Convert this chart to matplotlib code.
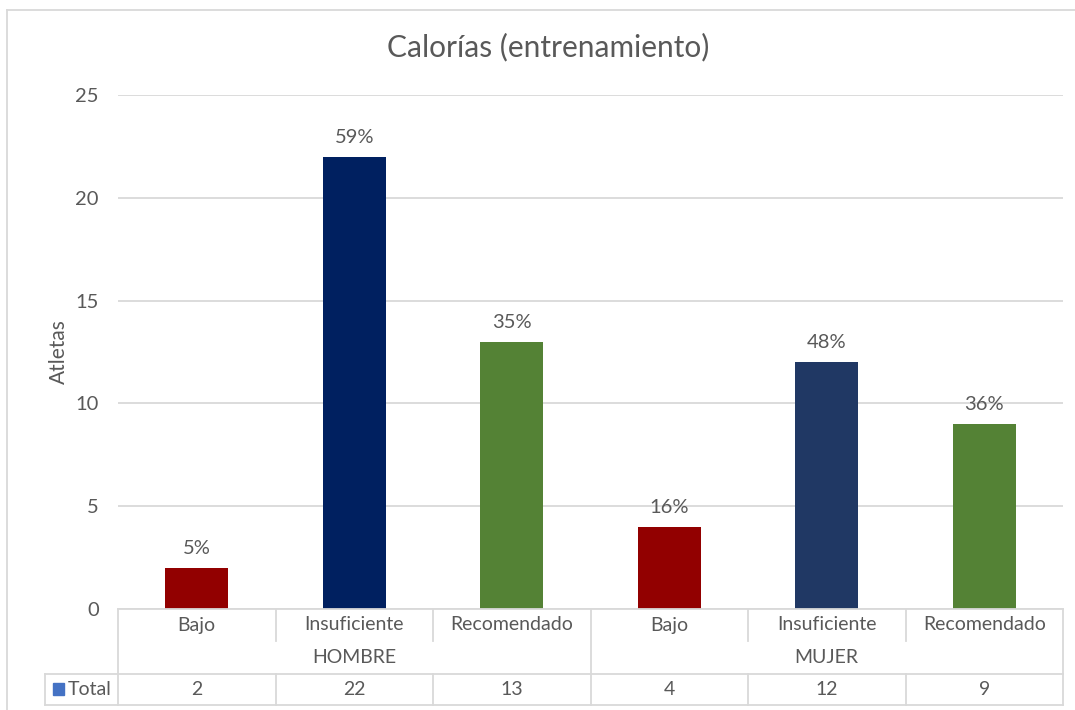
import matplotlib
matplotlib.use("Agg")
from matplotlib import pyplot as plt
from matplotlib import transforms
from matplotlib.patches import Rectangle

plt.rcParams['font.family'] = ['Lato', 'DejaVu Sans']

# data
groups = ["HOMBRE", "MUJER"]
levels = ["Bajo", "Insuficiente", "Recomendado"]
values = [2, 22, 13, 4, 12, 9]
percents = ["5%", "59%", "35%", "16%", "48%", "36%"]
colors = ['#920000', '#002060', '#548235', '#920000', '#203864', '#548235']
y_ticks = [0, 5, 10, 15, 20, 25]

txt = '#595959'
line = '#d9d9d9'
W, H = 1075, 710

fig = plt.figure(figsize=(W / 100, H / 100), dpi=100)


def fy(px):
    # pixel row -> figure fraction
    return 1 - px / H


ax = fig.add_axes([118 / W, fy(609), (1063 - 118) / W, fy(95) - fy(609)])
n = len(values)
xs = list(range(n))
bars = ax.bar(xs, values, width=0.4, color=colors)
for b, p in zip(bars, percents):
    ax.annotate(p, (b.get_x() + b.get_width() / 2, b.get_height()),
                xytext=(0, 8), textcoords='offset points',
                ha='center', va='bottom', fontsize=14.5, color=txt)

ax.set_xlim(-0.5, n - 0.5)
ax.set_ylim(0, 25)
ax.set_yticks(y_ticks)
ax.set_xticks([])
ax.tick_params(axis='y', length=0, labelsize=14.5, labelcolor=txt, pad=13.7)
ax.grid(axis='y', color=line, linewidth=1.3)
ax.set_axisbelow(True)
for s in ax.spines.values():
    s.set_visible(False)
ax.set_ylabel("Atletas", fontsize=15, color=txt, labelpad=5)

fig.text(0.51, fy(47), "Calorías (entrenamiento)", ha='center', va='center',
         fontsize=21.5, color=txt)

# data table under the axis
tr = transforms.blended_transform_factory(ax.transData, fig.transFigure)
r0, r1, r2, r3 = fy(609), fy(641), fy(674), fy(705)
left = -0.5
right = n - 0.5
kw = dict(color=line, linewidth=1.3, transform=tr, clip_on=False)
ax.plot([left, right], [r0, r0], **kw)
ax.plot([left, right], [r2, r2], **kw)
ax.plot([left, right], [r3, r3], **kw)
ax.plot([right, right], [r0, r3], **kw)
ax.plot([left, left], [r0, r3], **kw)
# left cell of the Total row
xl = ax.transData.inverted().transform((45, 0))[0]
ax.plot([xl, left], [r2, r2], **kw)
ax.plot([xl, left], [r3, r3], **kw)
ax.plot([xl, xl], [r2, r3], **kw)
for i in range(1, n):
    if i % len(levels) == 0:
        ax.plot([i - 0.5, i - 0.5], [r0, r3], **kw)
    else:
        ax.plot([i - 0.5, i - 0.5], [r0, r1], **kw)
        ax.plot([i - 0.5, i - 0.5], [r2, r3], **kw)

fs = 14
for i, v in enumerate(values):
    ax.text(i, (r0 + r1) / 2, levels[i % len(levels)], transform=tr,
            ha='center', va='center', fontsize=fs, color=txt)
    ax.text(i, (r2 + r3) / 2, str(v), transform=tr,
            ha='center', va='center', fontsize=fs, color=txt)
for g, name in enumerate(groups):
    xc = g * len(levels) + (len(levels) - 1) / 2
    ax.text(xc, (r1 + r2) / 2, name, transform=tr,
            ha='center', va='center', fontsize=fs, color=txt)

fig.text(68 / W, (r2 + r3) / 2, "Total", ha='left', va='center',
         fontsize=fs, color=txt)
fig.patches.append(Rectangle((53 / W, fy(695)), 11 / W, 12 / H,
                             transform=fig.transFigure, color='#4472c4'))

# chart frame
fig.add_artist(plt.Line2D([7 / W, 7 / W], [0, fy(10)], color=line, linewidth=1.3))
fig.add_artist(plt.Line2D([7 / W, 1], [fy(10), fy(10)], color=line, linewidth=1.3))

fig.savefig("out.png", dpi=100)
